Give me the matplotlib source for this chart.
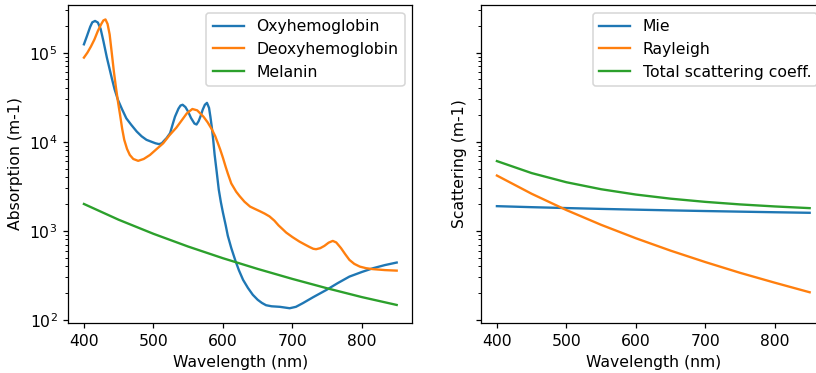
import matplotlib
matplotlib.use("Agg")
import matplotlib.pyplot as plt

# absorption spectra
oxy_wl = [400, 404, 409, 412, 416, 420, 424, 428, 433, 440, 444, 449, 455, 461,
          468, 476, 483, 490, 497, 503, 508, 512, 515, 519, 524, 528, 531, 536,
          539, 542, 546, 550, 554, 559, 562, 565, 568, 571, 574, 577, 580, 582,
          584, 586, 588, 591, 594, 597, 600, 604, 607, 612, 618, 623, 629, 636,
          643, 650, 656, 662, 670, 682, 696, 705, 715, 730, 749, 765, 782, 800,
          816, 833, 850]
oxy_mua = [1.24e5, 1.51e5, 1.95e5, 2.19e5, 2.27e5, 2.18e5, 1.85e5, 1.35e5, 8.8e4,
           5.2e4, 3.9e4, 2.94e4, 2.3e4, 1.83e4, 1.55e4, 1.30e4, 1.15e4, 1.05e4,
           1.0e4, 9.6e3, 9.4e3, 9.6e3, 1.02e4, 1.1e4, 1.25e4, 1.6e4, 1.91e4,
           2.35e4, 2.55e4, 2.6e4, 2.45e4, 2.17e4, 1.85e4, 1.6e4, 1.56e4, 1.7e4,
           1.95e4, 2.3e4, 2.6e4, 2.73e4, 2.4e4, 1.9e4, 1.45e4, 1.05e4, 7.2e3,
           4.6e3, 2.9e3, 2.1e3, 1.6e3, 1.15e3, 880, 640, 460, 360, 281, 228, 191,
           168, 155, 146, 142, 140, 135, 140, 154, 180, 217, 258, 306, 345, 380,
           412, 440]

deoxy_wl = [400, 405, 410, 415, 420, 425, 428, 431, 434, 437, 440, 443, 446, 449,
            452, 455, 458, 462, 466, 471, 478, 486, 495, 504, 514, 523, 533, 541,
            548, 556, 563, 572, 578, 584, 589, 593, 596, 600, 604, 607, 612, 619,
            624, 631, 639, 646, 653, 660, 667, 674, 680, 686, 691, 700, 710, 718,
            725, 730, 734, 740, 746, 752, 758, 763, 767, 770, 776, 782, 789, 797,
            806, 816, 833, 850]
deoxy_mua = [8.8e4, 1.0e5, 1.17e5, 1.4e5, 1.75e5, 2.1e5, 2.3e5, 2.36e5, 2.1e5,
             1.6e5, 1.0e5, 6.2e4, 4.1e4, 2.8e4, 2.0e4, 1.4e4, 1.05e4, 8.3e3,
             7.1e3, 6.4e3, 6.1e3, 6.4e3, 7.1e3, 8.2e3, 9.6e3, 1.18e4, 1.44e4,
             1.75e4, 2.08e4, 2.33e4, 2.25e4, 1.91e4, 1.65e4, 1.38e4, 1.15e4,
             9.5e3, 8.2e3, 6.6e3, 5.2e3, 4.4e3, 3.4e3, 2.75e3, 2.45e3, 2.12e3,
             1.87e3, 1.76e3, 1.66e3, 1.56e3, 1.45e3, 1.3e3, 1.15e3, 1.04e3, 955,
             850, 757, 700, 655, 628, 621, 638, 677, 735, 770, 740, 680, 637, 545,
             471, 425, 396, 380, 371, 362, 357]

wl = [400, 450, 500, 550, 600, 650, 700, 750, 800, 850]
melanin = [2000, 1330, 925, 665, 492, 373, 288, 226, 180, 147]

# scattering
mie = [1890, 1841, 1799, 1761, 1727, 1695, 1666, 1640, 1615, 1592]
rayleigh = [4170, 2603, 1708, 1166, 824, 598, 445, 337, 261, 204]
total = [6060, 4444, 3507, 2927, 2551, 2293, 2111, 1977, 1876, 1796]

dpi = 112.4
fig = plt.figure(figsize=(816 / dpi, 373 / dpi), dpi=dpi)
ax1 = fig.add_axes([0.0837, 0.1349, 0.4216, 0.8517])
ax2 = fig.add_axes([0.5898, 0.1349, 0.4216, 0.8517], sharey=ax1)

ax1.plot(oxy_wl, oxy_mua, label='Oxyhemoglobin')
ax1.plot(deoxy_wl, deoxy_mua, label='Deoxyhemoglobin')
ax1.plot(wl, melanin, label='Melanin')
ax1.set_yscale('log')
ax1.set_xlabel('Wavelength (nm)')
ax1.set_ylabel('Absorption (m-1)')
ax1.legend(loc='upper right')

ax2.plot(wl, mie, label='Mie')
ax2.plot(wl, rayleigh, label='Rayleigh')
ax2.plot(wl, total, label='Total scattering coeff.')
ax2.set_xlabel('Wavelength (nm)')
ax2.set_ylabel('Scattering (m-1)')
ax2.tick_params(labelleft=False)
ax2.legend(loc='upper right')

fig.savefig('out.png', dpi=dpi)
